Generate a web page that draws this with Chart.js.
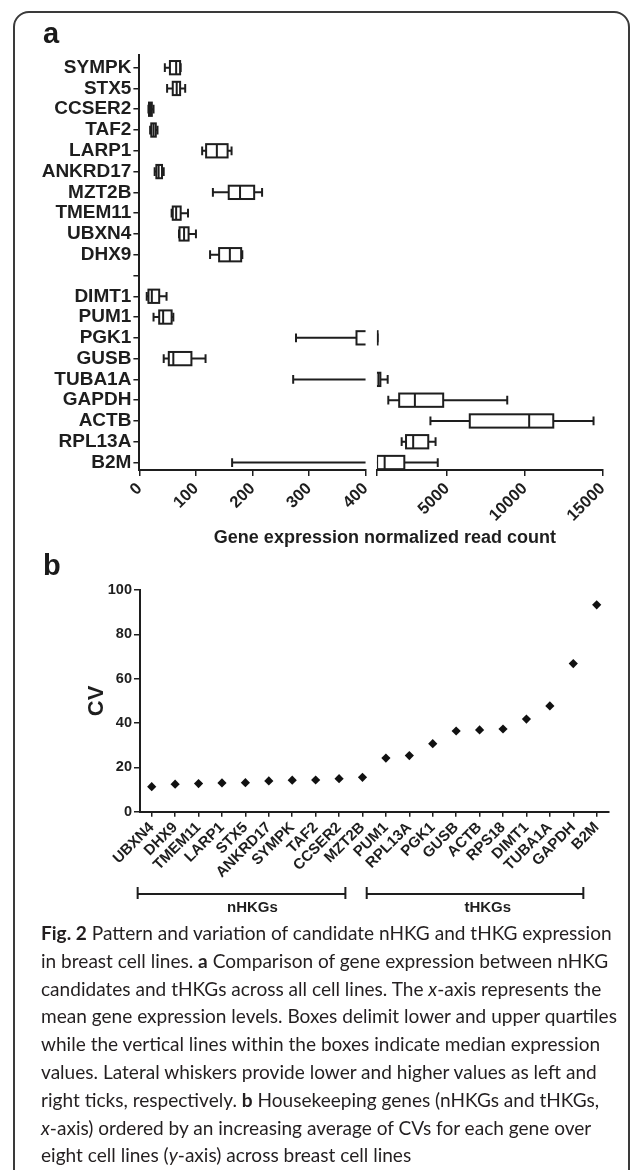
<!DOCTYPE html>
<html>
<head>
<meta charset="utf-8">
<script src="https://cdn.jsdelivr.net/npm/chart.js@4.4.1/dist/chart.umd.min.js"></script>
<style>
  html, body { margin: 0; padding: 0; background: #fff; }
  body { width: 633px; height: 1170px; position: relative; overflow: hidden; }
  #frame { position: absolute; left: 13px; top: 11px; width: 613px; height: 1200px;
           border: 2px solid #3a3a3a; border-radius: 16px; }
  .panel { position: absolute; left: 43px; font: bold 29px "Liberation Sans", Arial, sans-serif; color: #1a1a1a; line-height: 29px; }
  canvas { position: absolute; left: 0; }
  #caption { position: absolute; left: 41px; top: 919px; font-family: Lato, "Open Sans", sans-serif;
             font-size: 18px; line-height: 27.8px; color: #231f20; white-space: nowrap; }
  #caption div { display: block; }
  #caption span.w { display: inline; }
</style>
</head>
<body>
<div id="frame"></div>
<canvas id="boxChart" width="633" height="560" style="top:0"></canvas>
<canvas id="cvChart" width="633" height="360" style="top:560px"></canvas>
<div class="panel" style="top:19px">a</div>
<div class="panel" style="top:551px">b</div>
<div id="caption">
  <div><span class="w" id="firstLine"><b>Fig. 2</b> Pattern and variation of candidate nHKG and tHKG expression</span></div>
  <div>in breast cell lines. <b>a</b> Comparison of gene expression between nHKG</div>
  <div>candidates and tHKGs across all cell lines. The <i>x</i>-axis represents the</div>
  <div>mean gene expression levels. Boxes delimit lower and upper quartiles</div>
  <div>while the vertical lines within the boxes indicate median expression</div>
  <div>values. Lateral whiskers provide lower and higher values as left and</div>
  <div>right ticks, respectively. <b>b</b> Housekeeping genes (nHKGs and tHKGs,</div>
  <div><i>x</i>-axis) ordered by an increasing average of CVs for each gene over</div>
  <div>eight cell lines (<i>y</i>-axis) across breast cell lines</div>
</div>
<script>
// panel a: box plot rows (blank row separates nHKG candidates from tHKGs)
const boxGenes = ['SYMPK', 'STX5', 'CCSER2', 'TAF2', 'LARP1', 'ANKRD17', 'MZT2B', 'TMEM11', 'UBXN4', 'DHX9', '',
                  'DIMT1', 'PUM1', 'PGK1', 'GUSB', 'TUBA1A', 'GAPDH', 'ACTB', 'RPL13A', 'B2M'];
const boxMin    = [45, 49, 16, 19, 111, 27, 130, 57, 70, 125, null, 13, 25, 277, 43, 272, 1230, 3940, 2090, 164];
const boxQ1     = [54, 59, 17, 21, 118, 30, 158, 59, 71, 141, null, 16, 35, 384, 52, 450, 1930, 6470, 2370, 510];
const boxMedian = [65, 66, 20, 25, 137, 34, 178, 65, 79, 160, null, 22, 42, 460, 60, 600, 2940, 10290, 2830, 995];
const boxQ3     = [72, 72, 22, 29, 156, 40, 203, 73, 87, 180, null, 35, 57, 540, 92, 720, 4760, 11840, 3800, 2260];
const boxMax    = [73, 81, 25, 32, 163, 43, 217, 86, 100, 182, null, 48, 60, 540, 117, 1190, 8880, 14430, 4270, 4410];

// broken x axis: two segments
const seg1Ticks = [0, 100, 200, 300, 400];
const seg2Ticks = [500, 5000, 10000, 15000];
const seg2Start = 500;

// panel b: CV per gene
const cvGenes = ['UBXN4', 'DHX9', 'TMEM11', 'LARP1', 'STX5', 'ANKRD17', 'SYMPK', 'TAF2', 'CCSER2', 'MZT2B',
                 'PUM1', 'RPL13A', 'PGK1', 'GUSB', 'ACTB', 'RPS18', 'DIMT1', 'TUBA1A', 'GAPDH', 'B2M'];
const cvValues = [11.3, 12.4, 12.7, 13.0, 13.1, 13.9, 14.2, 14.3, 14.9, 15.5,
                  24.2, 25.3, 30.7, 36.4, 36.9, 37.3, 41.8, 47.7, 66.8, 93.3];
const cvTicks = [0, 20, 40, 60, 80, 100];
const groupNames = ['nHKGs', 'tHKGs'];

const INK = '#1e1e1e';
const FONT = '"Liberation Sans", Arial, sans-serif';

// caption: fit the first line to the width of the original
const firstLine = document.getElementById('firstLine');
const caption = document.getElementById('caption');
caption.style.fontSize = (18 * 571 / firstLine.getBoundingClientRect().width) + 'px';

const boxPlotPlugin = {
  id: 'boxPlot',
  afterDraw(chart) {
    const { ctx, chartArea, scales } = chart;
    const y = scales.y;
    const rowH = Math.abs(y.getPixelForValue(1) - y.getPixelForValue(0));
    const half = rowH * 0.32;
    const cap = rowH * 0.21;

    [scales.x1, scales.x2].forEach(sx => {
      ctx.save();
      ctx.beginPath();
      ctx.rect(sx.left, chartArea.top - 20, sx.right - sx.left, chartArea.bottom - chartArea.top + 20);
      ctx.clip();
      ctx.strokeStyle = INK;
      ctx.fillStyle = '#fff';
      ctx.lineWidth = 2;
      boxGenes.forEach((g, i) => {
        if (boxMin[i] == null) return;
        const cy = y.getPixelForValue(i);
        const lo = sx.getPixelForValue(boxMin[i]);
        const a = sx.getPixelForValue(boxQ1[i]);
        const m = sx.getPixelForValue(boxMedian[i]);
        const b = sx.getPixelForValue(boxQ3[i]);
        const hi = sx.getPixelForValue(boxMax[i]);
        ctx.beginPath();
        ctx.moveTo(lo, cy); ctx.lineTo(a, cy);
        ctx.moveTo(b, cy); ctx.lineTo(hi, cy);
        ctx.moveTo(lo, cy - cap); ctx.lineTo(lo, cy + cap);
        ctx.moveTo(hi, cy - cap); ctx.lineTo(hi, cy + cap);
        ctx.stroke();
        ctx.fillRect(a, cy - half, b - a, 2 * half);
        ctx.strokeRect(a, cy - half, b - a, 2 * half);
        ctx.beginPath();
        ctx.moveTo(m, cy - half); ctx.lineTo(m, cy + half);
        ctx.stroke();
      });
      ctx.restore();
    });

    // axis title centred under the broken axis
    ctx.save();
    ctx.fillStyle = INK;
    ctx.font = 'bold 18px ' + FONT;
    ctx.textAlign = 'center';
    ctx.textBaseline = 'middle';
    ctx.fillText('Gene expression normalized read count', (scales.x1.left + scales.x2.right) / 2 + 14, chartArea.bottom + 68);
    ctx.restore();
  }
};

const axisGrid = { drawOnChartArea: false, drawTicks: true, tickLength: 6, color: INK, lineWidth: 1.5 };
const axisBorder = { display: true, color: INK, width: 2 };

new Chart(document.getElementById('boxChart'), {
  type: 'scatter',
  data: { datasets: [] },
  options: {
    responsive: false,
    animation: false,
    layout: { padding: { top: 55, left: 0, right: 30.6, bottom: 0 } },
    plugins: { legend: { display: false }, tooltip: { enabled: false } },
    scales: {
      y: {
        type: 'linear', position: 'left', reverse: true, min: -0.61, max: 19.36,
        afterBuildTicks: s => { s.ticks = boxGenes.map((g, i) => ({ value: i })); },
        afterFit: s => { s.width = 139.4; },
        ticks: { autoSkip: false, padding: 2, color: INK, font: { family: FONT, size: 19, weight: 'bold' },
                 callback: v => boxGenes[Math.round(v)] },
        grid: axisGrid, border: axisBorder
      },
      x1: {
        type: 'linear', position: 'bottom', stack: 'xa', stackWeight: 226.1, min: 0, max: 400,
        afterBuildTicks: s => { s.ticks = seg1Ticks.map(v => ({ value: v })); },
        afterFit: s => { s.height = 90; },
        ticks: { autoSkip: false, minRotation: 45, maxRotation: 45, padding: 3, color: INK,
                 font: { family: FONT, size: 16.5, weight: 'bold' }, callback: v => String(v) },
        grid: axisGrid, border: axisBorder
      },
      xgap: {
        type: 'linear', position: 'bottom', stack: 'xa', stackWeight: 11.4, min: 0, max: 1,
        afterFit: s => { s.height = 90; },
        ticks: { display: false }, grid: { display: false }, border: { display: false }
      },
      x2: {
        type: 'linear', position: 'bottom', stack: 'xa', stackWeight: 225.4, min: seg2Start, max: 15000,
        afterBuildTicks: s => { s.ticks = seg2Ticks.map(v => ({ value: v })); },
        afterFit: s => { s.height = 90; },
        ticks: { autoSkip: false, minRotation: 45, maxRotation: 45, padding: 3, color: INK,
                 font: { family: FONT, size: 16.5, weight: 'bold' },
                 callback: v => (v === seg2Start ? '' : String(v)) },
        grid: axisGrid, border: axisBorder
      }
    }
  },
  plugins: [boxPlotPlugin]
});

const groupPlugin = {
  id: 'groups',
  afterDraw(chart) {
    const { ctx } = chart;
    const x = chart.scales.x;
    const spans = [[-0.6, 8.27, 4.3], [9.18, 18.43, 14.35]];
    ctx.save();
    ctx.strokeStyle = INK;
    ctx.fillStyle = INK;
    ctx.lineWidth = 2;
    ctx.font = 'bold 15px ' + FONT;
    ctx.textAlign = 'center';
    ctx.textBaseline = 'middle';
    spans.forEach((s, k) => {
      const l = x.getPixelForValue(s[0]);
      const r = x.getPixelForValue(s[1]);
      ctx.beginPath();
      ctx.moveTo(l, 334); ctx.lineTo(r, 334);
      ctx.moveTo(l, 327); ctx.lineTo(l, 339);
      ctx.moveTo(r, 327); ctx.lineTo(r, 339);
      ctx.stroke();
      ctx.fillText(groupNames[k], x.getPixelForValue(s[2]), 348);
    });
    ctx.restore();
  }
};

new Chart(document.getElementById('cvChart'), {
  type: 'line',
  data: {
    labels: cvGenes,
    datasets: [{
      data: cvValues, showLine: false, pointStyle: 'rectRot', pointRadius: 4.6, pointHoverRadius: 4.6,
      backgroundColor: '#111', borderColor: '#111', borderWidth: 0
    }]
  },
  options: {
    responsive: false,
    animation: false,
    layout: { padding: { top: 30, left: 80, right: 24.6, bottom: 0 } },
    plugins: { legend: { display: false }, tooltip: { enabled: false } },
    scales: {
      x: {
        type: 'category', offset: true,
        afterFit: s => { s.height = 108.3; },
        ticks: { autoSkip: false, minRotation: 45, maxRotation: 45, padding: 2, color: INK,
                 font: { family: FONT, size: 15, weight: 'bold' } },
        grid: { offset: false, drawOnChartArea: false, drawTicks: true, tickLength: 5, color: INK, lineWidth: 1.5 },
        border: axisBorder
      },
      y: {
        type: 'linear', min: 0, max: 100,
        afterBuildTicks: s => { s.ticks = cvTicks.map(v => ({ value: v })); },
        afterFit: s => { s.width = 60; },
        title: { display: true, text: 'CV', color: INK, padding: { top: 4, bottom: 0 },
                 font: { family: FONT, size: 22, weight: 'bold' } },
        ticks: { padding: 2, color: INK, font: { family: FONT, size: 14.5, weight: 'bold' } },
        grid: { drawOnChartArea: false, drawTicks: true, tickLength: 6, color: INK, lineWidth: 1.5 },
        border: axisBorder
      }
    }
  },
  plugins: [groupPlugin]
});
</script>
</body>
</html>
